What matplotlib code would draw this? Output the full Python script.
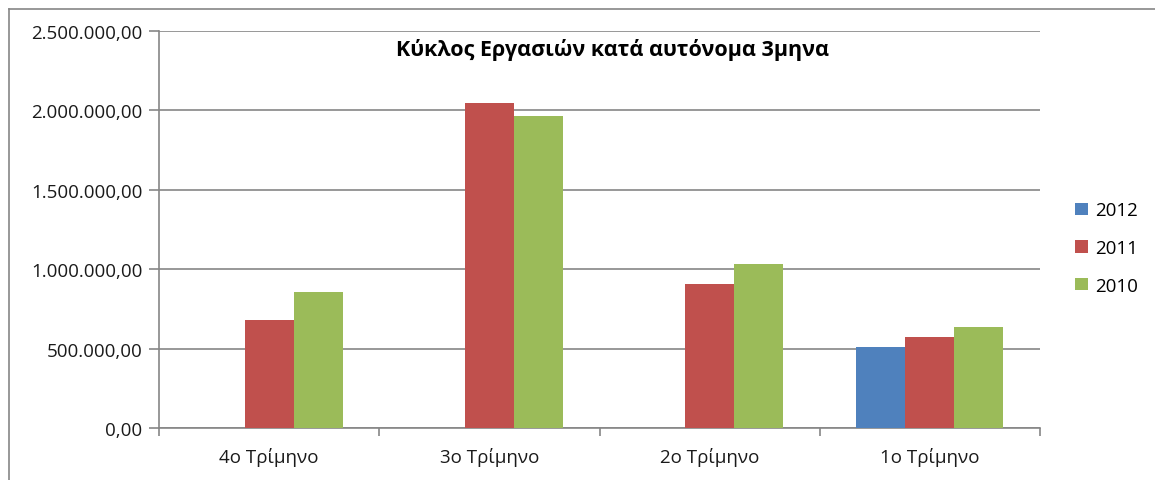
import numpy as np
import matplotlib.pyplot as plt
from matplotlib.ticker import FuncFormatter, FixedLocator
from matplotlib.lines import Line2D

plt.rcParams['font.family'] = ['Open Sans', 'DejaVu Sans']

quarters = ["4ο Τρίμηνο", "3ο Τρίμηνο", "2ο Τρίμηνο", "1ο Τρίμηνο"]
years = ["2012", "2011", "2010"]
sales_2012 = [0, 0, 0, 513000]
sales_2011 = [680000, 2047000, 905000, 570000]
sales_2010 = [855000, 1962000, 1032000, 639000]
colors = ["#4F81BD", "#C0504D", "#9BBB59"]


def greek_number(v, pos):
    s = f"{v:,.2f}"
    return s.replace(",", "X").replace(".", ",").replace("X", ".")


fig = plt.figure(figsize=(11.55, 4.81), dpi=100)
ax = fig.add_axes([159 / 1155, 52 / 481, (1040 - 159) / 1155, (429 - 32) / 481])

x = np.arange(len(quarters))
w = 1 / 4.5
for i, (vals, col, lab) in enumerate(zip([sales_2012, sales_2011, sales_2010], colors, years)):
    ax.bar(x + (i - 1) * w, vals, width=w, color=col, label=lab, zorder=3)

ax.set_xlim(-0.5, len(quarters) - 0.5)
ax.set_ylim(0, 2500000)
ax.yaxis.set_major_locator(FixedLocator(np.arange(0, 2500001, 500000)))
ax.yaxis.set_major_formatter(FuncFormatter(greek_number))
ax.grid(axis='y', color='#868686', linewidth=1.2, zorder=0)

ax.set_xticks(x)
ax.set_xticklabels(quarters)
ax.set_xticks(np.arange(-0.5, len(quarters)), minor=True)
ax.tick_params(axis='x', which='major', length=0, pad=14, labelsize=13.5, colors='#1a1a1a')
ax.tick_params(axis='x', which='minor', length=6, width=1.2, color='#868686')
ax.tick_params(axis='y', length=7, width=1.2, color='#868686', labelsize=13.5, pad=5,
               labelcolor='#1a1a1a')

for s in ['top', 'right']:
    ax.spines[s].set_visible(False)
for s in ['left', 'bottom']:
    ax.spines[s].set_color('#868686')
    ax.spines[s].set_linewidth(1.2)

fig.text(612 / 1155, 1 - 50 / 481, "Κύκλος Εργασιών κατά αυτόνομα 3μηνα",
         ha='center', va='center', fontsize=15.5, fontweight='bold')

ax.legend(loc='upper left', bbox_to_anchor=(1066 / 1155, 1 - 193 / 481),
          bbox_transform=fig.transFigure, frameon=False, fontsize=13.5,
          handlelength=0.65, handleheight=0.65, handletextpad=0.4, labelspacing=1.05,
          borderpad=0)

# outer chart border (left and top only visible)
fig.add_artist(Line2D([9 / 1155, 9 / 1155], [0, 1 - 10 / 481], transform=fig.transFigure,
                      color='#868686', linewidth=1.2))
fig.add_artist(Line2D([9 / 1155, 1], [1 - 10 / 481, 1 - 10 / 481], transform=fig.transFigure,
                      color='#868686', linewidth=1.2))

fig.savefig("out.png", dpi=100, facecolor='white')
